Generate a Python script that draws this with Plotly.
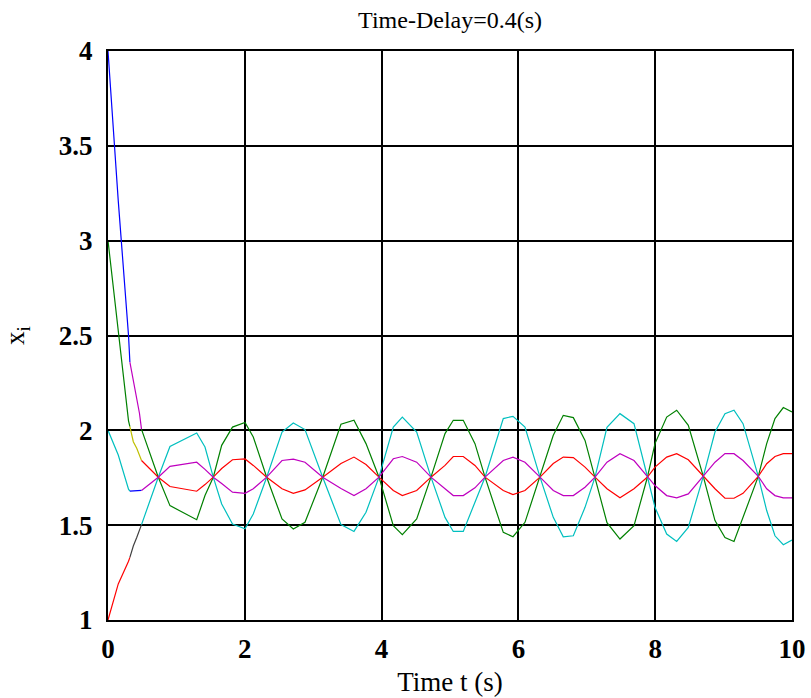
import plotly.graph_objects as go

# Agent states x1..x4, integrated in three stretches; each stretch is drawn
# with the next colours of the classic MATLAB line colour order.

# Stretch 1
t_seg1 = [0.0, 0.15, 0.30, 0.32]
x1_seg1 = [4.00, 3.21, 2.50, 2.36]
x2_seg1 = [3.00, 2.51, 2.05, 2.02]
x3_seg1 = [1.00, 1.19, 1.31, 1.33]
x4_seg1 = [2.00, 1.87, 1.69, 1.68]

# Stretch 2
t_seg2 = [0.32, 0.37, 0.42, 0.46, 0.49]
x1_seg2 = [2.36, 2.265, 2.16, 2.09, 2.005]
x2_seg2 = [2.02, 1.94, 1.905, 1.87, 1.841]
x3_seg2 = [1.33, 1.39, 1.435, 1.47, 1.503]
x4_seg2 = [1.68, 1.68, 1.68, 1.68, 1.683]

# Stretch 3
t_seg3 = [0.49, 0.735, 0.906, 1.297, 1.418, 1.539, 1.662, 1.820, 2.003, 2.124,
          2.320, 2.544, 2.709, 2.880, 3.139, 3.406, 3.596, 3.772, 3.962, 4.171,
          4.303, 4.513, 4.722, 4.927, 5.048, 5.194, 5.365, 5.512, 5.779, 5.921,
          6.096, 6.316, 6.510, 6.656, 6.803, 6.974, 7.120, 7.295, 7.485, 7.690,
          7.887, 7.997, 8.168, 8.314, 8.484, 8.703, 8.874, 9.020, 9.152, 9.284,
          9.507, 9.630, 9.751, 9.873, 10.0]
x1_seg3 = [2.005, 1.753, 1.603, 1.529, 1.656, 1.753, 1.921, 2.017, 2.042, 1.965,
           1.753, 1.533, 1.480, 1.515, 1.753, 2.032, 2.053, 1.930, 1.753, 1.497,
           1.450, 1.533, 1.753, 1.983, 2.053, 2.053, 1.930, 1.753, 1.462, 1.439,
           1.515, 1.753, 1.974, 2.079, 2.067, 1.947, 1.753, 1.513, 1.427, 1.497,
           1.754, 1.930, 2.070, 2.106, 2.026, 1.757, 1.524, 1.435, 1.414, 1.541,
           1.757, 1.930, 2.062, 2.120, 2.097]
x2_seg3 = [1.841, 1.753, 1.704, 1.679, 1.714, 1.753, 1.799, 1.845, 1.849, 1.815,
           1.753, 1.692, 1.668, 1.686, 1.753, 1.825, 1.859, 1.820, 1.753, 1.683,
           1.656, 1.683, 1.753, 1.815, 1.862, 1.862, 1.815, 1.753, 1.683, 1.661,
           1.683, 1.753, 1.825, 1.859, 1.856, 1.806, 1.753, 1.692, 1.644, 1.692,
           1.754, 1.806, 1.859, 1.877, 1.845, 1.757, 1.692, 1.642, 1.642, 1.668,
           1.757, 1.824, 1.862, 1.877, 1.877]
x3_seg3 = [1.503, 1.753, 1.915, 1.986, 1.912, 1.753, 1.612, 1.506, 1.481, 1.559,
           1.753, 1.991, 2.039, 2.004, 1.753, 1.503, 1.467, 1.568, 1.753, 2.017,
           2.070, 1.991, 1.753, 1.541, 1.467, 1.467, 1.621, 1.753, 2.062, 2.074,
           2.017, 1.753, 1.541, 1.439, 1.444, 1.594, 1.753, 2.016, 2.088, 2.035,
           1.754, 1.594, 1.453, 1.414, 1.488, 1.757, 1.991, 2.088, 2.106, 2.035,
           1.757, 1.577, 1.444, 1.397, 1.422]
x4_seg3 = [1.683, 1.753, 1.810, 1.832, 1.794, 1.753, 1.720, 1.674, 1.668, 1.692,
           1.753, 1.841, 1.848, 1.832, 1.753, 1.693, 1.656, 1.692, 1.753, 1.850,
           1.862, 1.832, 1.753, 1.692, 1.656, 1.656, 1.697, 1.753, 1.841, 1.859,
           1.832, 1.753, 1.683, 1.656, 1.656, 1.700, 1.753, 1.832, 1.877, 1.841,
           1.754, 1.709, 1.656, 1.644, 1.665, 1.757, 1.832, 1.877, 1.877, 1.841,
           1.757, 1.692, 1.656, 1.644, 1.644]

# Classic MATLAB ColorOrder (b, dark g, r, c, m, y, dark grey)
color_order = ["rgb(0,0,255)", "rgb(0,128,0)", "rgb(255,0,0)", "rgb(0,191,191)",
               "rgb(191,0,191)", "rgb(191,191,0)", "rgb(64,64,64)"]

x_ticks = [0, 2, 4, 6, 8, 10]
y_ticks = [1, 1.5, 2, 2.5, 3, 3.5, 4]

segments = [
    (t_seg1, [x1_seg1, x2_seg1, x3_seg1, x4_seg1]),
    (t_seg2, [x1_seg2, x2_seg2, x3_seg2, x4_seg2]),
    (t_seg3, [x1_seg3, x2_seg3, x3_seg3, x4_seg3]),
]

fig = go.Figure()
k = 0
for t, states in segments:
    for i, xs in enumerate(states):
        fig.add_trace(go.Scatter(
            x=t, y=xs, mode="lines",
            line=dict(color=color_order[k % len(color_order)], width=1.2),
            name=f"x{i + 1}", showlegend=False,
        ))
        k += 1

serif = "Liberation Serif, Times New Roman, serif"
axis_common = dict(
    showline=True, linecolor="black", linewidth=2, mirror="ticks",
    ticks="inside", ticklen=5, tickwidth=2, tickcolor="black",
    showgrid=True, gridcolor="black", gridwidth=1.5, zeroline=False,
    automargin=False,
    tickfont=dict(family=serif, size=27, color="black", weight="bold"),
)

fig.update_layout(
    width=811, height=698,
    margin=dict(l=108, r=19, t=51, b=78, autoexpand=False),
    paper_bgcolor="white", plot_bgcolor="white",
    title=dict(text="Time-Delay=0.4(s)", x=0.555, xanchor="center", y=0.972,
               yanchor="middle", font=dict(family=serif, size=24, color="black")),
    xaxis=dict(range=[0, 10], tickvals=x_ticks, ticktext=[str(v) for v in x_ticks],
               title=dict(text="Time t (s)", standoff=9,
                          font=dict(family=serif, size=27, color="black")),
               ticklabelstandoff=4, **axis_common),
    yaxis=dict(range=[1, 4], tickvals=y_ticks, ticktext=[f"{v:g}" for v in y_ticks],
               title=dict(text="x<sub>i</sub>", standoff=27,
                          font=dict(family=serif, size=27, color="black")),
               ticklabelstandoff=8, **axis_common),
)

fig.write_html("out.html")
